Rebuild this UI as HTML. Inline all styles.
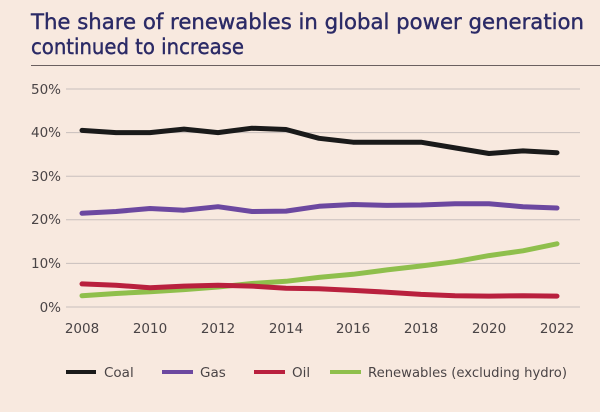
<!DOCTYPE html>
<html><head><meta charset="utf-8"><style>
html,body{margin:0;padding:0;background:#f8e9df;}
svg{display:block;font-family:"DejaVu Sans","Liberation Sans",sans-serif;}
</style></head><body>
<svg width="600" height="412" viewBox="0 0 600 412" xmlns="http://www.w3.org/2000/svg">
<rect width="600" height="412" fill="#f8e9df"/>
<g fill="#2b2a66" stroke="#2b2a66" stroke-width="0.4" font-size="21">
<text x="31" y="29" textLength="553" lengthAdjust="spacingAndGlyphs">The share of renewables in global power generation</text>
<text x="31" y="54" textLength="213" lengthAdjust="spacingAndGlyphs">continued to increase</text>
</g>
<line x1="31" y1="65.5" x2="600" y2="65.5" stroke="#6b6060" stroke-width="1"/>
<g stroke="#c9bfbd" stroke-width="1">
<line x1="66" x2="580" y1="89" y2="89"/><line x1="66" x2="580" y1="132.6" y2="132.6"/>
<line x1="66" x2="580" y1="176.2" y2="176.2"/><line x1="66" x2="580" y1="219.8" y2="219.8"/>
<line x1="66" x2="580" y1="263.4" y2="263.4"/><line x1="66" x2="580" y1="307" y2="307"/>
</g>
<g font-size="13.5" fill="#4a4446" text-anchor="end">
<text x="61" y="94">50%</text><text x="61" y="137">40%</text><text x="61" y="181">30%</text>
<text x="61" y="224">20%</text><text x="61" y="268">10%</text><text x="61" y="312">0%</text>
</g>
<g font-size="13.5" fill="#4a4446" text-anchor="middle">
<text x="82" y="333">2008</text><text x="150" y="333">2010</text><text x="218" y="333">2012</text>
<text x="286" y="333">2014</text><text x="353" y="333">2016</text><text x="421" y="333">2018</text>
<text x="489" y="333">2020</text><text x="557" y="333">2022</text>
</g>
<g fill="none" stroke-width="5" stroke-linejoin="round" stroke-linecap="round">
<polyline stroke="#8fbf4c" points="82,295.7 116,293.5 150,291.7 184,289.6 218,287 252,283.5 286,281.3 319,277.4 353,274.3 387,269.9 421,266 455,261.7 489,255.6 523,250.8 557,243.8"/>
<polyline stroke="#b9203e" points="82,283.9 116,285.2 150,287.8 184,286.1 218,285.2 252,286.1 286,288.3 319,288.7 353,290.4 387,292.2 421,294.4 455,295.7 489,296.1 523,295.7 557,296.1"/>
<polyline stroke="#6c48a0" points="82,213.3 116,211.5 150,208.5 184,210.2 218,206.7 252,211.5 286,211.1 319,206.3 353,204.5 387,205.4 421,205 455,203.7 489,203.7 523,206.7 557,208"/>
<polyline stroke="#1a1a1a" points="82,130.4 116,132.6 150,132.6 184,129.1 218,132.6 252,128.2 286,129.5 319,138.3 353,142.2 387,142.2 421,142.2 455,147.9 489,153.5 523,150.9 557,152.7"/>
</g>
<g stroke-width="4">
<line x1="66" x2="96" y1="372" y2="372" stroke="#1a1a1a"/>
<line x1="162" x2="193" y1="372" y2="372" stroke="#6c48a0"/>
<line x1="254" x2="285" y1="372" y2="372" stroke="#b9203e"/>
<line x1="330" x2="361" y1="372" y2="372" stroke="#8fbf4c"/>
</g>
<g font-size="13.5" fill="#4a4446">
<text x="104" y="377">Coal</text><text x="200" y="377">Gas</text>
<text x="292" y="377">Oil</text><text x="368" y="377" textLength="199" lengthAdjust="spacingAndGlyphs">Renewables (excluding hydro)</text>
</g>
</svg>
</body></html>
